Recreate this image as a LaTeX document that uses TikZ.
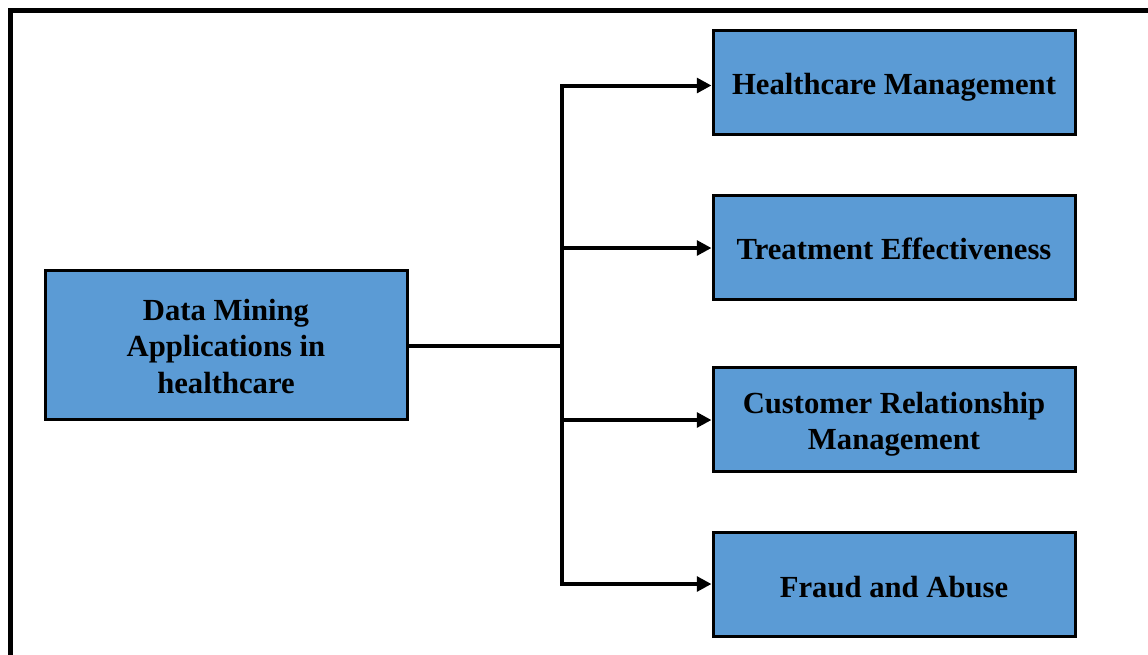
\documentclass[tikz,border=0pt]{standalone}
\usepackage{fontspec}
\setmainfont{Liberation Serif}
\usetikzlibrary{arrows.meta}
\definecolor{boxblue}{HTML}{5B9BD5}
% box label: centred lines, drawn slightly below the box centre
% while the node keeps the unshifted size for centring
\newsavebox{\labelbox}
\newcommand{\boxlabel}[2][3.75pt]{%
  \sbox{\labelbox}{\begin{tabular}{@{}c@{}}#2\end{tabular}}%
  \raisebox{-#1}[\ht\labelbox][\dp\labelbox]{\usebox{\labelbox}}}
\begin{document}
\begin{tikzpicture}[x=0.75pt,y=-0.75pt,
  box/.style={draw=black, line width=2.25pt, fill=boxblue, align=center,
    font=\fontsize{23}{27.4}\selectfont\bfseries, inner sep=0pt},
  leftbox/.style={box, minimum width=271.5pt, minimum height=111.75pt},
  rightbox/.style={box, minimum width=271.5pt, minimum height=78pt},
  link/.style={line width=3pt},
  arrowlink/.style={link, -{Triangle[length=11pt,width=11pt]}}]
  \useasboundingbox (0,0) rectangle (1148,654);
  \clip (0,0) rectangle (1148,654);
  % outer frame (runs off the right and bottom edges)
  \draw[line width=3.75pt] (10,10) rectangle (1200,700);

  % boxes
  \node[leftbox] (dm) at (226,344.5) {\boxlabel{Data Mining\\Applications in\\healthcare}};
  \node[rightbox] (hm) at (894,82) {\boxlabel{Healthcare Management}};
  \node[rightbox] (te) at (894,247) {\boxlabel{Treatment Effectiveness}};
  \node[rightbox] (crm) at (894,419) {\boxlabel{Customer Relationship\\Management}};
  \node[rightbox] (fa) at (894,584) {\boxlabel[4.3pt]{Fraud and Abuse}};

  % trunk points
  \coordinate (hub) at (562,345.5);
  \coordinate (t1) at (562,85.5);
  \coordinate (t2) at (562,248);
  \coordinate (t3) at (562,420);
  \coordinate (t4) at (562,584);

  % connectors
  \draw[link] (dm.east |- hub) -- (hub);
  \draw[link, line cap=rect] (t1) -- (t4);
  \draw[arrowlink] (t1) -- (t1 -| hm.west);
  \draw[arrowlink] (t2) -- (t2 -| te.west);
  \draw[arrowlink] (t3) -- (t3 -| crm.west);
  \draw[arrowlink] (t4) -- (t4 -| fa.west);
\end{tikzpicture}
\end{document}
